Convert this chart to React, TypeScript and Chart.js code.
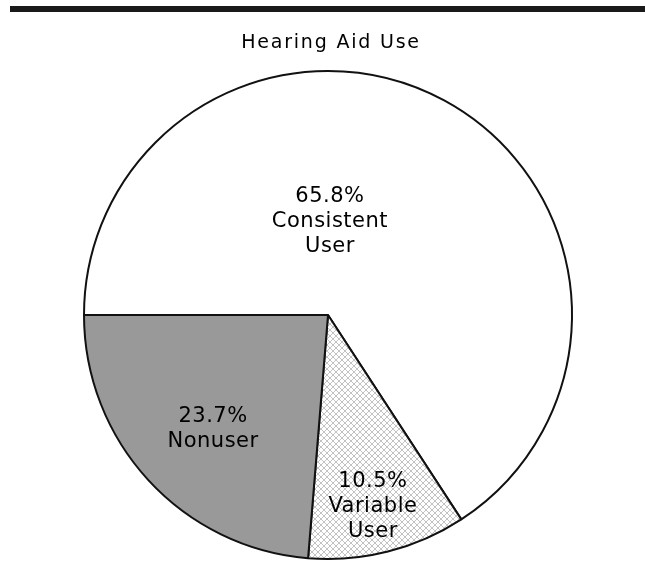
import React, { useEffect, useRef } from "react";
import { Chart, registerables } from "chart.js";

Chart.register(...registerables);

const chartTitle = "Hearing Aid Use";
const categories = ["Consistent User", "Variable User", "Nonuser"];
const percentages = [65.8, 10.5, 23.7];

function makeHatch(): CanvasPattern | string {
  const c = document.createElement("canvas");
  c.width = 6;
  c.height = 6;
  const g = c.getContext("2d");
  if (!g) return "#eeeeee";
  g.fillStyle = "#ffffff";
  g.fillRect(0, 0, 6, 6);
  g.strokeStyle = "#c2c2c2";
  g.lineWidth = 1;
  g.beginPath();
  g.moveTo(0, 0);
  g.lineTo(6, 6);
  g.moveTo(0, 6);
  g.lineTo(6, 0);
  g.stroke();
  const p = g.createPattern(c, "repeat");
  return p || "#eeeeee";
}

// label anchor offsets (fractions of the pie radius) for each slice
const labelAnchors = [
  { dx: 0.008, dy: -0.36 },
  { dx: 0.184, dy: 0.807 },
  { dx: -0.471, dy: 0.488 },
];

export default function App() {
  const ref = useRef<HTMLCanvasElement | null>(null);

  useEffect(() => {
    if (!ref.current) return;
    const labelPlugin = {
      id: "sliceLabels",
      afterDraw(chart: any) {
        const ctx = chart.ctx as CanvasRenderingContext2D;
        ctx.save();
        ctx.fillStyle = "#000000";
        ctx.textAlign = "center";
        ctx.textBaseline = "alphabetic";
        // title
        ctx.font = '19px "DejaVu Sans"';
        (ctx as any).letterSpacing = "1.8px";
        ctx.fillText(chartTitle, 331, 48);
        // slice labels
        ctx.font = '21px "DejaVu Sans"';
        (ctx as any).letterSpacing = "0.5px";
        const meta = chart.getDatasetMeta(0);
        meta.data.forEach((arc: any, i: number) => {
          const p = arc.getProps(["x", "y", "outerRadius"], true);
          const lines = [percentages[i].toFixed(1) + "%", ...categories[i].split(" ")];
          const a = labelAnchors[i];
          const cx = p.x + a.dx * p.outerRadius;
          const cy = p.y + a.dy * p.outerRadius;
          const lh = 25;
          lines.forEach((t, k) => {
            ctx.fillText(t, cx, cy + (k - (lines.length - 1) / 2) * lh);
          });
        });
        ctx.restore();
      },
    };

    const chart = new Chart(ref.current, {
      type: "pie",
      data: {
        labels: categories,
        datasets: [
          {
            data: percentages,
            backgroundColor: ["#ffffff", makeHatch() as any, "#999999"],
            borderColor: "#111111",
            borderWidth: 2,
          },
        ],
      },
      options: {
        responsive: false,
        animation: false,
        rotation: 270,
        layout: { padding: { left: 83, right: 72, top: 70, bottom: 10 } },
        plugins: {
          legend: { display: false },
          title: { display: false },
          tooltip: { enabled: false },
        },
      },
      plugins: [labelPlugin],
    });
    return () => chart.destroy();
  }, []);

  return (
    <div style={{ position: "absolute", left: 0, top: 0, width: 645, height: 570, background: "#ffffff" }}>
      <div style={{ position: "absolute", left: 10, top: 6, width: 635, height: 6, background: "#1a1a1a" }} />
      <canvas ref={ref} width={645} height={570} style={{ position: "absolute", left: 0, top: 0 }} />
    </div>
  );
}
